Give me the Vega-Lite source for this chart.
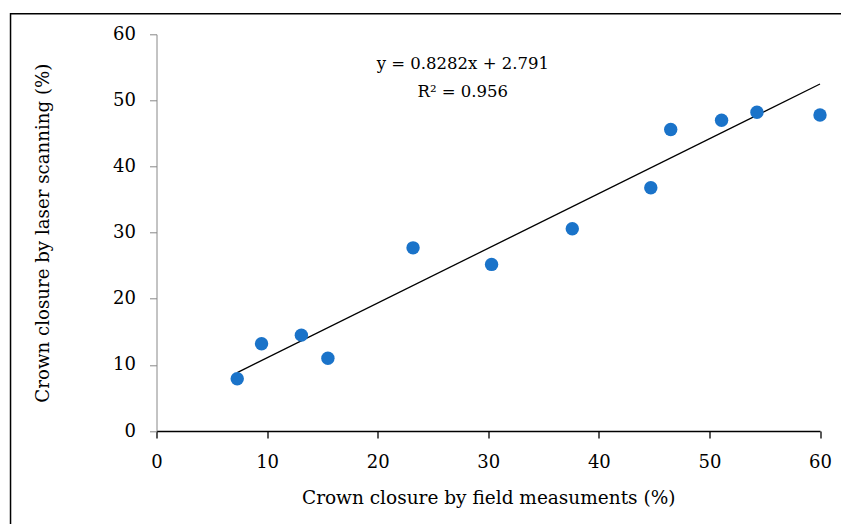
{
  "$schema": "https://vega.github.io/schema/vega-lite/v6.json",
  "autosize": {"type": "none"},
  "width": 663.5,
  "height": 396.7,
  "padding": {"left": 156.5, "top": 34.3, "right": 21, "bottom": 93},
  "background": "white",
  "config": {
    "view": {"stroke": null},
    "font": "DejaVu Serif",
    "axis": {"grid": false, "labelFont": "DejaVu Serif", "titleFont": "DejaVu Serif", "labelFontSize": 18, "titleFontSize": 18.5, "labelColor": "#000", "titleColor": "#000", "titleFontWeight": "normal", "tickSize": 7, "labelFlush": false}
  },
  "datasets": {
    "pts": [
      {"field": 7.3, "laser": 7.9},
      {"field": 9.5, "laser": 13.2},
      {"field": 13.1, "laser": 14.5},
      {"field": 15.5, "laser": 11.0},
      {"field": 23.2, "laser": 27.7},
      {"field": 30.3, "laser": 25.2},
      {"field": 37.6, "laser": 30.6},
      {"field": 44.7, "laser": 36.8},
      {"field": 46.5, "laser": 45.6},
      {"field": 51.1, "laser": 47.0},
      {"field": 54.3, "laser": 48.2},
      {"field": 60.0, "laser": 47.8}
    ],
    "fit": [
      {"field": 7.3, "laser": 8.84},
      {"field": 60.0, "laser": 52.48}
    ]
  },
  "layer": [
    {
      "data": {"name": "fit"},
      "mark": {"type": "line", "color": "#000", "strokeWidth": 1.3},
      "encoding": {
        "x": {"field": "field", "type": "quantitative"},
        "y": {"field": "laser", "type": "quantitative"}
      }
    },
    {
      "data": {"name": "pts"},
      "mark": {"type": "point", "filled": true, "size": 180, "color": "#1a73c9", "opacity": 1, "shape": "circle"},
      "encoding": {
        "x": {"field": "field", "type": "quantitative", "scale": {"domain": [0, 60], "nice": false},
          "axis": {"title": "Crown closure by field measuments (%)", "values": [0, 10, 20, 30, 40, 50, 60], "domainColor": "#000", "tickColor": "#000", "labelPadding": 15, "titlePadding": 17, "domainWidth": 1.3, "tickWidth": 1.3}},
        "y": {"field": "laser", "type": "quantitative", "scale": {"domain": [0, 60], "nice": false},
          "axis": {"title": "Crown closure by laser scanning (%)", "titleFontSize": 18.2, "values": [0, 10, 20, 30, 40, 50, 60], "domainColor": "#888", "tickColor": "#888", "labelPadding": 14, "titlePadding": 60}}
      }
    },
    {
      "data": {"values": [{"t": "y = 0.8282x + 2.791", "x": 27.7, "y": 55.55}, {"t": "R² = 0.956", "x": 27.7, "y": 51.2}]},
      "mark": {"type": "text", "fontSize": 16.5, "font": "DejaVu Serif", "color": "#000", "align": "center", "baseline": "middle"},
      "encoding": {
        "x": {"field": "x", "type": "quantitative"},
        "y": {"field": "y", "type": "quantitative"},
        "text": {"field": "t"}
      }
    },
    {
      "data": {"values": [{}]},
      "mark": {"type": "rect", "fill": null, "fillOpacity": 0, "stroke": "#000", "strokeWidth": 1.5, "clip": false},
      "encoding": {
        "x": {"datum": -13.2, "type": "quantitative"},
        "x2": {"datum": 70},
        "y": {"datum": 63.1, "type": "quantitative"},
        "y2": {"datum": -16}
      }
    }
  ]
}
